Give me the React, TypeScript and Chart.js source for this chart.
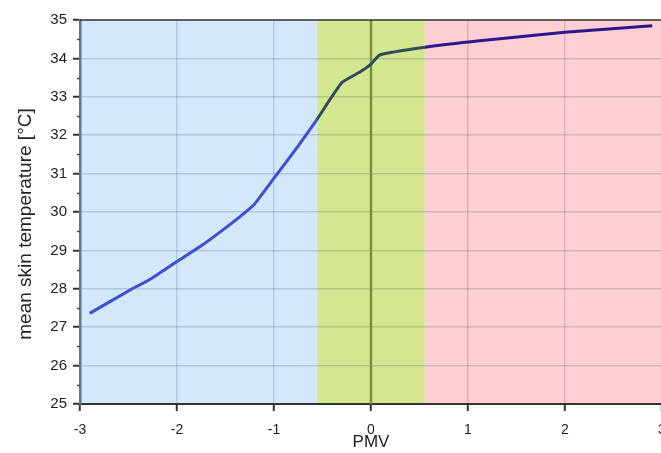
import React, { useEffect, useRef } from "react";
import { Chart, registerables } from "chart.js";

Chart.register(...registerables);

const pmv = [-2.9, -2.51, -2.25, -2.0, -1.75, -1.55, -1.35, -1.21, -1.0, -0.75, -0.56, -0.3, -0.11, 0.0, 0.09, 0.555, 1.12, 2.0, 2.9];
const skinTemp = [27.36, 27.93, 28.29, 28.71, 29.12, 29.49, 29.88, 30.18, 30.88, 31.72, 32.4, 33.37, 33.65, 33.85, 34.09, 34.29, 34.46, 34.68, 34.85];
const xTicks = [-3, -2, -1, 0, 1, 2, 3];
const yTicks = [25, 26, 27, 28, 29, 30, 31, 32, 33, 34, 35];
const yTitle = "mean skin temperature [°C]";
const zoneBounds = [-0.555, 0.555];
const zoneColors = ["#d5e7fa", "#d4e68e", "#ffcfd3"];
const lineColors = ["#3a4ed6", "#2f4b5e", "#2c1690"];

const zonesPlugin = {
  id: "zones",
  beforeDraw(chart: any) {
    const { ctx, chartArea, scales } = chart;
    const x = scales.x;
    const b0 = x.getPixelForValue(zoneBounds[0]);
    const b1 = x.getPixelForValue(zoneBounds[1]);
    ctx.save();
    ctx.fillStyle = zoneColors[0];
    ctx.fillRect(chartArea.left, chartArea.top, b0 - chartArea.left, chartArea.bottom - chartArea.top);
    ctx.fillStyle = zoneColors[1];
    ctx.fillRect(b0, chartArea.top, b1 - b0, chartArea.bottom - chartArea.top);
    ctx.fillStyle = zoneColors[2];
    ctx.fillRect(b1, chartArea.top, chartArea.right - b1, chartArea.bottom - chartArea.top);
    ctx.restore();
  },
  beforeDatasetsDraw(chart: any) {
    const { ctx, chartArea, scales } = chart;
    const x0 = scales.x.getPixelForValue(0);
    ctx.save();
    ctx.strokeStyle = "#7b8e3a";
    ctx.lineWidth = 2.5;
    ctx.beginPath();
    ctx.moveTo(x0, chartArea.top);
    ctx.lineTo(x0, chartArea.bottom);
    ctx.stroke();
    ctx.restore();
  },
  afterDraw(chart: any) {
    const { ctx, chartArea, scales } = chart;
    const y = scales.y;
    ctx.save();
    ctx.strokeStyle = "rgba(30,30,30,0.65)";
    ctx.lineWidth = 2;
    ctx.beginPath();
    ctx.moveTo(chartArea.left, chartArea.top);
    ctx.lineTo(chartArea.right, chartArea.top);
    ctx.stroke();
    ctx.strokeStyle = "#444";
    ctx.lineWidth = 1.5;
    for (let v = 25.5; v < 35; v += 1) {
      const py = Math.round(y.getPixelForValue(v)) + 0.5;
      ctx.beginPath();
      ctx.moveTo(chartArea.left - 3, py);
      ctx.lineTo(chartArea.left, py);
      ctx.stroke();
    }
    // y axis title
    ctx.translate(26, (chartArea.top + chartArea.bottom) / 2 + 12);
    ctx.rotate(-Math.PI / 2);
    ctx.fillStyle = "#222";
    ctx.font = "19px 'Liberation Sans'";
    ctx.textAlign = "center";
    ctx.textBaseline = "middle";
    ctx.fillText(yTitle, 0, 0);
    ctx.restore();
  },
};

function zoneIndex(v: number) {
  if (v < zoneBounds[0]) return 0;
  if (v < zoneBounds[1]) return 1;
  return 2;
}

export default function App() {
  const ref = useRef<HTMLCanvasElement | null>(null);
  useEffect(() => {
    if (!ref.current) return;
    const chart = new Chart(ref.current, {
      type: "line",
      data: {
        datasets: [
          {
            data: pmv.map((p, i) => ({ x: p, y: skinTemp[i] })),
            borderColor: lineColors[0],
            borderWidth: 3,
            pointRadius: 0,
            tension: 0.15,
            segment: {
              borderColor: (c: any) => lineColors[zoneIndex((c.p0.parsed.x + c.p1.parsed.x) / 2)],
            },
          },
        ],
      },
      options: {
        responsive: false,
        animation: false,
        events: [],
        layout: { padding: { top: 20, right: 18, left: 0, bottom: 0 } },
        plugins: { legend: { display: false }, tooltip: { enabled: false } },
        scales: {
          x: {
            type: "linear",
            min: -3,
            max: 3,
            afterBuildTicks: (s: any) => {
              s.ticks = xTicks.map((v) => ({ value: v }));
            },
            afterFit: (s: any) => {
              s.height = 49;
            },
            ticks: {
              color: "#222",
              font: { family: "Liberation Sans", size: 14 },
              padding: 11,
              maxRotation: 0,
            },
            grid: {
              color: "rgba(0,40,90,0.16)",
              lineWidth: 1.5,
              tickColor: "#333",
              tickLength: 7,
              tickWidth: 2,
            },
            border: { color: "#333", width: 2 },
            title: {
              display: true,
              text: "PMV",
              color: "#222",
              font: { family: "Liberation Sans", size: 17 },
              padding: { top: 0, bottom: 0 },
            },
          },
          y: {
            type: "linear",
            min: 25,
            max: 35,
            afterBuildTicks: (s: any) => {
              s.ticks = yTicks.map((v) => ({ value: v }));
            },
            afterFit: (s: any) => {
              s.width = 80;
            },
            ticks: {
              color: "#222",
              font: { family: "Liberation Sans", size: 15 },
              padding: 6,
            },
            grid: {
              color: "rgba(0,40,90,0.16)",
              lineWidth: 1.5,
              tickColor: "#333",
              tickLength: 7,
              tickWidth: 2,
            },
            border: { color: "#5f7590", width: 2.5 },
          },
        },
      },
      plugins: [zonesPlugin],
    } as any);
    return () => chart.destroy();
  }, []);
  return (
    <div style={{ position: "fixed", left: 0, top: 0, width: 661, height: 453, overflow: "hidden", background: "#fff" }}>
      <canvas ref={ref} width={680} height={453} style={{ display: "block", width: 680, height: 453 }} />
    </div>
  );
}
